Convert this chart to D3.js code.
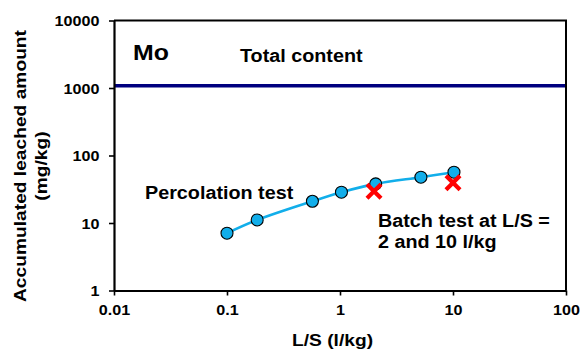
<!DOCTYPE html>
<html>
<head>
<meta charset="utf-8">
<script src="https://cdn.jsdelivr.net/npm/d3@7"></script>
<style>
  html, body { margin: 0; padding: 0; background: #fff; }
  svg { display: block; }
  text { font-family: "Liberation Sans", Arial, Helvetica, sans-serif; font-weight: bold; fill: #000; }
</style>
</head>
<body>
<svg id="chart" width="580" height="353"></svg>
<script>
// Mo leaching: cumulative release in the percolation test vs. batch test results
const percolationLS = [0.1, 0.185, 0.57, 1.03, 2.07, 5.2, 10.2];
const percolationMo = [7.06, 11.1, 21, 28.6, 38, 47.7, 56.6];
const batchLS = [2, 10];
const batchMo = [29.6, 39.4];
const totalContent = 1080;
const xTicks = [0.01, 0.1, 1, 10, 100];
const yTicks = [1, 10, 100, 1000, 10000];
const xTickLabels = ["0.01", "0.1", "1", "10", "100"];
const yTickLabels = ["1", "10", "100", "1000", "10000"];

const svg = d3.select("#chart");
const plotLeft = 114, plotRight = 566, plotTop = 20.5, plotBottom = 290.5;
const stretch = 1.13; // glyphs are drawn a little wide along the reading direction

const x = d3.scaleLog().domain([0.01, 100]).range([plotLeft, plotRight]);
const y = d3.scaleLog().domain([1, 10000]).range([plotBottom, plotTop]);

// place a text item with a stretch along its reading direction about its anchor point
function placeText(sel, tx, ty, rot) {
  sel.attr("x", 0).attr("y", 0)
     .attr("transform", rot
        ? `translate(${tx},${ty}) rotate(-90) scale(${stretch},1)`
        : `translate(${tx},${ty}) scale(${stretch},1)`);
  return sel;
}

// total content reference line
svg.append("line")
  .attr("x1", plotLeft).attr("x2", plotRight)
  .attr("y1", y(totalContent)).attr("y2", y(totalContent))
  .attr("stroke", "#00007f").attr("stroke-width", 3.5);

// frame (top and right)
svg.append("path")
  .attr("d", `M${plotLeft},${plotTop}H${plotRight}V${plotBottom}`)
  .attr("fill", "none").attr("stroke", "#000").attr("stroke-width", 2);

// axes
const xAxis = d3.axisBottom(x).tickValues(xTicks)
  .tickFormat((d, i) => xTickLabels[i]).tickSize(5).tickSizeOuter(0).tickPadding(9.5);
const yAxis = d3.axisLeft(y).tickValues(yTicks)
  .tickFormat((d, i) => yTickLabels[i]).tickSize(5).tickSizeOuter(0).tickPadding(9.5);

const gx = svg.append("g").attr("transform", `translate(0,${plotBottom})`).call(xAxis);
const gy = svg.append("g").attr("transform", `translate(${plotLeft},0)`).call(yAxis);

[gx, gy].forEach(g => {
  g.attr("font-size", null).attr("font-family", null);
  g.select(".domain").attr("stroke", "#000").attr("stroke-width", 2.2);
  g.selectAll(".tick line").attr("stroke", "#000").attr("stroke-width", 1.6);
  g.selectAll(".tick text")
    .attr("font-size", 14.3)
    .attr("fill", "#000")
    .each(function () {
      const t = d3.select(this);
      const tx = +t.attr("x") || 0, ty = +t.attr("y") || 0;
      placeText(t, tx, ty, false);
    });
});
gy.selectAll(".tick text").attr("dy", "0.36em");

// percolation curve
const pts = percolationLS.map((v, i) => [v, percolationMo[i]]);
const line = d3.line()
  .x(d => x(d[0])).y(d => y(d[1]))
  .curve(d3.curveCatmullRom.alpha(0.5));
svg.append("path")
  .attr("d", line(pts))
  .attr("fill", "none").attr("stroke", "#12aeea").attr("stroke-width", 2.6);

svg.append("g").selectAll("circle").data(pts).join("circle")
  .attr("cx", d => x(d[0])).attr("cy", d => y(d[1])).attr("r", 6)
  .attr("fill", "#12aeea").attr("stroke", "#000").attr("stroke-width", 1.1);

// batch test markers
const batch = batchLS.map((v, i) => [v, batchMo[i]]);
const cross = d3.symbol().type(d3.symbolX).size(130);
svg.append("g").selectAll("path").data(batch).join("path")
  .attr("d", cross)
  .attr("transform", d => `translate(${x(d[0])},${y(d[1])})`)
  .attr("fill", "none").attr("stroke", "#ff0000").attr("stroke-width", 4.2);

// annotations
placeText(svg.append("text").attr("font-size", 22).text("Mo"), 133, 60, false);
placeText(svg.append("text").attr("font-size", 17.5).text("Total content"), 240, 62, false);
placeText(svg.append("text").attr("font-size", 17.5).text("Percolation test"), 145, 199, false);
placeText(svg.append("text").attr("font-size", 17.5).text("Batch test at L/S ="), 378, 226.5, false);
placeText(svg.append("text").attr("font-size", 17.5).text("2 and 10 l/kg"), 378, 248, false);

// axis titles
placeText(svg.append("text").attr("font-size", 17).attr("text-anchor", "middle")
  .text("L/S (l/kg)"), 332.5, 346, false);
placeText(svg.append("text").attr("font-size", 17).attr("text-anchor", "middle")
  .text("Accumulated leached amount"), 26, 166, true);
placeText(svg.append("text").attr("font-size", 17).attr("text-anchor", "middle")
  .text("(mg/kg)"), 47, 166, true);
</script>
</body>
</html>
